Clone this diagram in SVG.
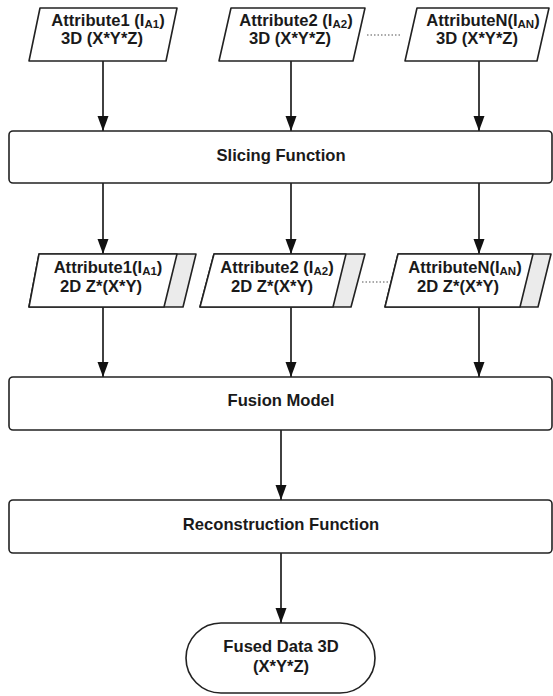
<svg xmlns="http://www.w3.org/2000/svg" width="553" height="696" viewBox="0 0 553 696">
<style>
.shape{fill:#ffffff;stroke:#222222;stroke-width:1.6;stroke-linejoin:round}
.tail{fill:#ebebeb;stroke:#222222;stroke-width:1.6;stroke-linejoin:round}
.conn{stroke:#111111;stroke-width:1.6;fill:none}
.dot{stroke:#555555;stroke-width:1.2;stroke-dasharray:1.5 2;fill:none}
text{font-family:"Liberation Sans",Arial,sans-serif;font-weight:bold;font-size:16.6px;fill:#1a1a1a;text-anchor:middle}
.sub{font-size:11.5px}
</style>
<defs>
<marker id="ah" markerUnits="userSpaceOnUse" markerWidth="16" markerHeight="12" refX="15" refY="6" orient="auto" viewBox="0 0 16 12">
<path d="M0,0.5 L15,6 L0,11.5 Z" fill="#111111"/>
</marker>
</defs>
<g id="connectors">
<line class="conn" x1="103" y1="61" x2="103" y2="131" marker-end="url(#ah)"/>
<line class="conn" x1="291" y1="61" x2="291" y2="131" marker-end="url(#ah)"/>
<line class="conn" x1="479" y1="61" x2="479" y2="131" marker-end="url(#ah)"/>
<line class="conn" x1="103" y1="183" x2="103" y2="254" marker-end="url(#ah)"/>
<line class="conn" x1="291" y1="183" x2="291" y2="254" marker-end="url(#ah)"/>
<line class="conn" x1="479" y1="183" x2="479" y2="254" marker-end="url(#ah)"/>
<line class="conn" x1="103" y1="307" x2="103" y2="377" marker-end="url(#ah)"/>
<line class="conn" x1="291" y1="307" x2="291" y2="377" marker-end="url(#ah)"/>
<line class="conn" x1="479" y1="307" x2="479" y2="377" marker-end="url(#ah)"/>
<line class="conn" x1="281" y1="430" x2="281" y2="500" marker-end="url(#ah)"/>
<line class="conn" x1="281" y1="553" x2="281" y2="623" marker-end="url(#ah)"/>
<line class="dot" x1="367" y1="35" x2="402" y2="35"/>
<line class="dot" x1="362" y1="282" x2="388" y2="282"/>
</g>
<g id="attr1-3d">
<path class="shape" d="M40,8 L177,8 L166,61 L29,61 Z"/>
<text x="108" y="26">Attribute1 (I<tspan class="sub" dy="2">A1</tspan><tspan dy="-2">)</tspan></text>
<text x="102" y="44">3D (X*Y*Z)</text>
</g>
<g id="attr2-3d">
<path class="shape" d="M231,8 L365,8 L353,61 L219,61 Z"/>
<text x="296" y="26">Attribute2 (I<tspan class="sub" dy="2">A2</tspan><tspan dy="-2">)</tspan></text>
<text x="290" y="44">3D (X*Y*Z)</text>
</g>
<g id="attrN-3d">
<path class="shape" d="M417,8 L549,8 L537,61 L405,61 Z"/>
<text x="483" y="26">AttributeN(I<tspan class="sub" dy="2">AN</tspan><tspan dy="-2">)</tspan></text>
<text x="477" y="44">3D (X*Y*Z)</text>
</g>
<g id="slicing">
<rect class="shape" x="9" y="131" width="543" height="52" rx="4"/>
<text x="281" y="161">Slicing Function</text>
</g>
<g id="attr1-2d">
<path class="tail" d="M39,254 L196,254 L183,307 L29,307 Z"/>
<path class="shape" d="M39,254 L177,254 L164,307 L29,307 Z"/>
<text x="108" y="273">Attribute1(I<tspan class="sub" dy="2">A1</tspan><tspan dy="-2">)</tspan></text>
<text x="101" y="292">2D Z*(X*Y)</text>
</g>
<g id="attr2-2d">
<path class="tail" d="M214,254 L365,254 L351,307 L200,307 Z"/>
<path class="shape" d="M214,254 L346,254 L333,307 L200,307 Z"/>
<text x="277" y="273">Attribute2 (I<tspan class="sub" dy="2">A2</tspan><tspan dy="-2">)</tspan></text>
<text x="272" y="292">2D Z*(X*Y)</text>
</g>
<g id="attrN-2d">
<path class="tail" d="M398,254 L551,254 L538,307 L385,307 Z"/>
<path class="shape" d="M398,254 L533,254 L520,307 L385,307 Z"/>
<text x="465" y="273">AttributeN(I<tspan class="sub" dy="2">AN</tspan><tspan dy="-2">)</tspan></text>
<text x="458" y="292">2D Z*(X*Y)</text>
</g>
<g id="fusion">
<rect class="shape" x="9" y="377" width="543" height="53" rx="4"/>
<text x="281" y="406">Fusion Model</text>
</g>
<g id="reconstruction">
<rect class="shape" x="9" y="500" width="543" height="53" rx="4"/>
<text x="281" y="530">Reconstruction Function</text>
</g>
<g id="fused">
<rect class="shape" x="186" y="623" width="189" height="70" rx="35"/>
<text x="281" y="652">Fused Data 3D</text>
<text x="281" y="672">(X*Y*Z)</text>
</g>
</svg>
